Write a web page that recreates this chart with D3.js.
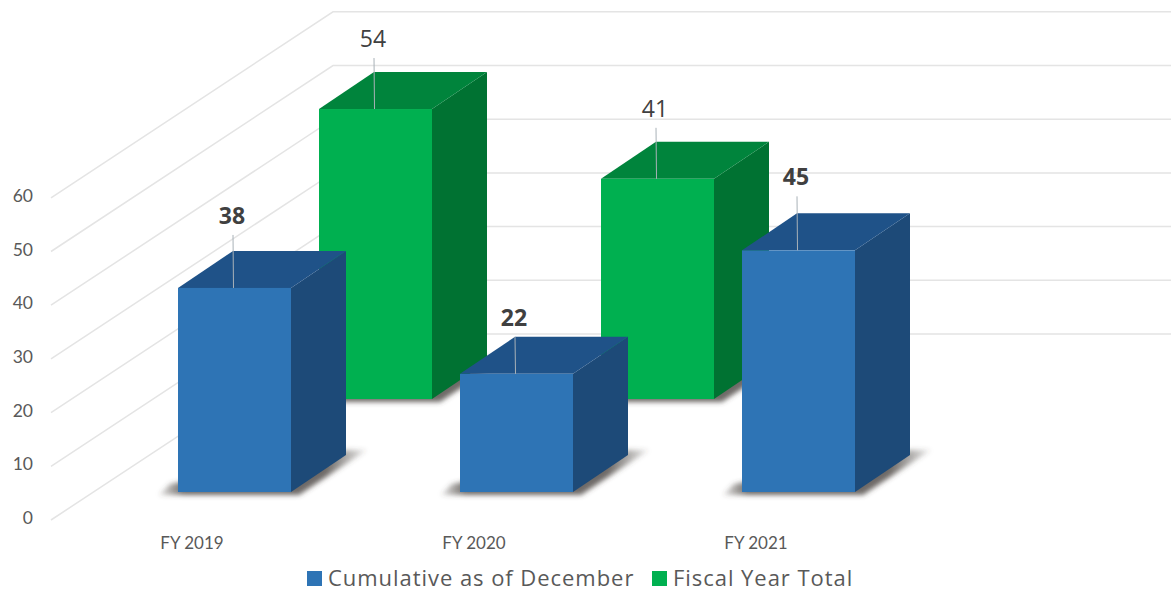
<!DOCTYPE html>
<html>
<head>
<meta charset="utf-8">
<script src="https://cdn.jsdelivr.net/npm/d3@7"></script>
<style>
  html, body { margin: 0; padding: 0; background: #fff; }
  svg { display: block; }
</style>
</head>
<body>
<script>
// chart data
var categories = ["FY 2019", "FY 2020", "FY 2021"];
var seriesNames = ["Cumulative as of December", "Fiscal Year Total"];
var cumulativeValues = [38, 22, 45];
var fiscalTotalValues = [54, 41, null];
var yTicks = [0, 10, 20, 30, 40, 50, 60];

var width = 1171, height = 592;
var barWidth = 113;
var depthX = 55, depthY = 37; // how far a bar's depth runs up and right

var colours = [
    { front: "#2e74b5", top: "#1f5288", side: "#1d4a78" },
    { front: "#00b050", top: "#00843c", side: "#007232" }
];

var svg = d3.select("body").append("svg")
    .attr("width", width)
    .attr("height", height);

// front floor edge of the blue row, bars stand on it
var x = d3.scaleBand().domain(categories).range([178, 178 + 3 * 282]);
var y = d3.scaleLinear().domain([0, 60]).range([492, 492 - 60 * 5.37]);
// series row -> shift into the picture
var rowX = d3.scaleLinear().domain([0, 1]).range([0, 141]);
var rowY = d3.scaleLinear().domain([0, 1]).range([0, -93]);

// floor depth of the whole chart, from the axis corner to the back wall
var wallLeft = 333, wallFloor = 334, axisLeft = 51, axisFloor = 520;
var wallY = d3.scaleLinear().domain([0, 60]).range([wallFloor, wallFloor - 60 * 5.37]);

// gridlines: side wall diagonal + back wall
svg.append("g").selectAll("path")
    .data(yTicks)
    .enter()
    .append("path")
        .attr("d", (t) => "M" + axisLeft + "," + (axisFloor - (wallFloor - wallY(t)))
            + "L" + wallLeft + "," + wallY(t) + "L" + width + "," + wallY(t))
        .attr("fill", "none")
        .attr("stroke", "#e4e4e4")
        .attr("stroke-width", 1.5);

// y tick labels
svg.append("g").selectAll("text")
    .data(yTicks)
    .enter()
    .append("text")
        .attr("x", 33)
        .attr("y", (t) => axisFloor - 2 - (wallFloor - wallY(t)))
        .attr("dy", "0.35em")
        .attr("text-anchor", "end")
        .style("font-family", "Lato")
        .style("font-size", "17.5px")
        .style("fill", "#595959")
        .text((t) => t);

// x tick labels
svg.append("g").selectAll("text")
    .data(categories)
    .enter()
    .append("text")
        .attr("x", (c) => x(c) + 14)
        .attr("y", 543)
        .attr("dy", "0.35em")
        .attr("text-anchor", "middle")
        .style("font-family", "Lato")
        .style("font-size", "17px")
        .style("fill", "#595959")
        .text((c) => c);

// soft shadow on the floor
var defs = svg.append("defs");
defs.append("filter").attr("id", "soft")
    .attr("x", "-10%").attr("y", "-15%").attr("width", "120%").attr("height", "130%")
    .append("feGaussianBlur").attr("stdDeviation", 2.4);
var fade = defs.append("linearGradient").attr("id", "shadowFade");
fade.append("stop").attr("offset", "0").attr("stop-color", "#4a4541").attr("stop-opacity", 0.15);
fade.append("stop").attr("offset", "0.12").attr("stop-color", "#4a4541").attr("stop-opacity", 0.8);
fade.append("stop").attr("offset", "0.8").attr("stop-color", "#4a4541").attr("stop-opacity", 0.8);
fade.append("stop").attr("offset", "1").attr("stop-color", "#4a4541").attr("stop-opacity", 0.1);

function polygon(points) {
    return points.map((p) => p.join(",")).join(" ");
}

// labels sit on a leader line, its length differs per bar in the original
var leaderLift = [[53, 37, 54], [51, 51, 0]];

function drawRow(values, row) {
    var bars = categories
        .map((c, i) => ({ category: c, value: values[i], lift: leaderLift[row][i] }))
        .filter((d) => d.value !== null);
    var dx = rowX(row), dy = rowY(row);
    var col = colours[row];
    var g = svg.append("g");

    var bar = g.selectAll("g")
        .data(bars)
        .enter()
        .append("g");

    bar.append("polygon")
        .attr("points", (d) => {
            var l = x(d.category) + dx, r = l + barWidth, b = y(0) + dy;
            return polygon([[l - 19, b + 3], [l - 8, b - 8], [r + depthX, b - depthY - 5],
                [r + depthX + 21, b - depthY - 5], [r + 8, b + 3]]);
        })
        .attr("fill", "url(#shadowFade)")
        .attr("filter", "url(#soft)");

    bar.append("polygon") // side
        .attr("points", (d) => {
            var r = x(d.category) + dx + barWidth, b = y(0) + dy, t = y(d.value) + dy;
            return polygon([[r, t], [r + depthX, t - depthY], [r + depthX, b - depthY], [r, b]]);
        })
        .attr("fill", col.side);

    bar.append("polygon") // top
        .attr("points", (d) => {
            var l = x(d.category) + dx, r = l + barWidth, t = y(d.value) + dy;
            return polygon([[l, t], [r, t], [r + depthX, t - depthY], [l + depthX, t - depthY]]);
        })
        .attr("fill", col.top);

    bar.append("rect") // front
        .attr("x", (d) => x(d.category) + dx)
        .attr("y", (d) => y(d.value) + dy)
        .attr("width", barWidth)
        .attr("height", (d) => y(0) - y(d.value))
        .attr("fill", col.front);

    bar.append("line") // leader
        .attr("x1", (d) => x(d.category) + dx + barWidth / 2 - 1)
        .attr("x2", (d) => x(d.category) + dx + barWidth / 2 - 1.5)
        .attr("y1", (d) => y(d.value) + dy)
        .attr("y2", (d) => y(d.value) + dy - d.lift)
        .attr("stroke", "#a9b2b8")
        .attr("stroke-width", 1);

    bar.append("text")
        .attr("x", (d) => x(d.category) + dx + barWidth / 2 - 2.5)
        .attr("y", (d) => y(d.value) + dy - d.lift - 19)
        .attr("dy", "0.35em")
        .attr("text-anchor", "middle")
        .style("font-family", "'Open Sans'")
        .style("font-size", "23px")
        .style("font-weight", row === 0 ? "700" : "400")
        .style("fill", "#404040")
        .text((d) => d.value);
}

// back row first so the blue bars cover it
drawRow(fiscalTotalValues, 1);
drawRow(cumulativeValues, 0);

// legend
var legendX = [307, 652];
var legend = svg.append("g").selectAll("g")
    .data(seriesNames)
    .enter()
    .append("g")
        .attr("transform", (d, i) => "translate(" + legendX[i] + ",571)");
legend.append("rect")
    .attr("width", 15)
    .attr("height", 15)
    .attr("fill", (d, i) => colours[i].front);
legend.append("text")
    .attr("x", 21)
    .attr("y", 7.5)
    .attr("dy", "0.35em")
    .style("font-family", "'Open Sans'")
    .style("font-size", "22px")
    .style("letter-spacing", "0.95px")
    .style("fill", "#595959")
    .text((d) => d);
</script>
</body>
</html>
